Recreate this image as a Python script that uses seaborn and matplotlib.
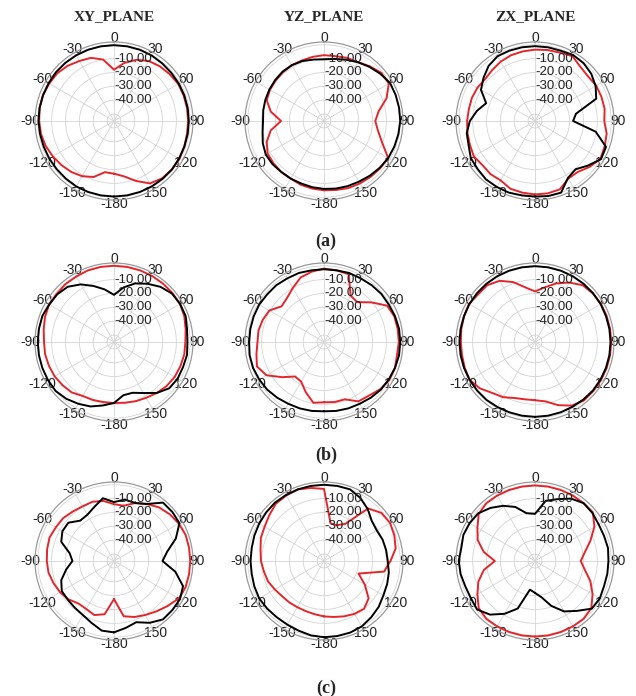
import numpy as np
import matplotlib
matplotlib.use("Agg")
import matplotlib.pyplot as plt
import seaborn as sns
import pandas as pd

sns.set_style("white")
plt.rcParams['font.family'] = ['Liberation Sans', 'DejaVu Sans']

# ---------------- data (gain in dB, angle in degrees, clockwise from top) ----------------
ANGLES = [-180, -170, -160, -150, -140, -130, -120, -110, -100, -90, -80, -70, -60, -50, -40,
          -30, -20, -10, 0, 10, 20, 30, 40, 50, 60, 70, 80, 90, 100, 110, 120, 130, 140, 150,
          160, 170, 180]

PLANES = ["XY_PLANE", "YZ_PLANE", "ZX_PLANE"]
ROW_LABELS = ["(a)", "(b)", "(c)"]
THETA_TICKS = [0, 30, 60, 90, 120, 150, 180, 210, 240, 270, 300, 330]
THETA_LABELS = ["0", "30", "60", "90", "120", "150", "-180", "-150", "-120", "-90", "-60", "-30"]
R_LABEL_LEVELS = [-10, -20, -30, -40]
R_GRID = [-50, -40, -30, -20, -10, 0]

# (a)
a_xy_black = [-0.5, -0.5, -0.5, -0.5, -0.8, -1, -1, -1, -0.8, -0.5, -0.5, -0.5, -0.5, -0.3, -0.3,
              -0.3, -0.3, -0.3, -0.3, -0.3, -0.3, -0.5, -0.8, -1, -1, -1, -1, -1, -1, -1, -0.8, -0.5,
              -0.5, -0.5, -0.5, -0.5, -0.5]
a_xy_red = [-17, -17.5, -12, -9, -7, -5.5, -4, -2.5, -1.5, -1, -0.5, -0.5, -1, -1.5, -3,
            -5, -6.5, -10, -18, -12.5, -8, -5, -3.5, -2.5, -1.5, -1.5, -1.5, -1.5, -1.5, -1, -0.5,
            -0.5, -1, -3, -9, -14.5, -17]
a_yz_black = [-6, -6.5, -7, -7, -7, -6.5, -6.5, -8, -10, -11, -10.5, -10, -9.5, -9, -8.5,
              -8.5, -9, -10, -10.5, -9.5, -8, -6, -4, -2, 0, 0, 0, 0, -0.5, -1, -1.5, -2.5,
              -3.5, -4.5, -5, -5.5, -6]
a_yz_red = [-5, -5.5, -6, -7, -7, -7.5, -8, -11, -16, -24, -16, -11, -10, -9.5, -9,
            -8.5, -8.5, -8, -7.5, -7.5, -6.5, -6, -3.5, -1, -1, -7, -15, -18, -15.5, -10.5, -1.5,
            -2, -2.5, -3, -3.5, -4.5, -5]
a_zx_black = [-0.5, -0.5, 0, 0, 0, -1, -1.5, -4, -5, -8, -12.5, -17.5, -10, -6.5, -3,
              -1, -1, -1, -1, -1, -1, 0, -0.5, -2, -4.5, -8, -25, -27.5, -10.5, -0.5, 0,
              -5, -9.5, -7.5, 0, 0, -0.5]
a_zx_red = [-2, -2.5, -3, -5.5, -5, -5.5, -4, -5, -5.5, -6, -6.5, -6.5, -7, -8, -7,
            -5.5, -4.5, -4, -3.5, -3, -2.5, -1, -4, -5, -4, -4, -4, -5, -2.5, -1.5, -0.5,
            -3.5, -7, -7, -2.5, -2, -2]
# (b)
b_xy_black = [-11, -8.5, -5.5, -3.5, -1.5, 0, 0, 0, 0, 0, 0, 0, -1, -1.5, -3,
              -7, -12, -16.5, -21, -15, -10, -6.5, -3, -0.5, 0, 0, -1.5, -2, -1.5, -2, -2,
              -3, -7, -12.5, -16, -16, -11]
b_xy_red = [-11, -11, -10.5, -10, -7.5, -6.5, -5.5, -5, -4.5, -4.5, -3.5, -2, -1, -1, -0.5,
            -0.5, 0, 0, 0, 0, 0, 0, 0, 0, 0, -1, -2.5, -3.5, -3.5, -4, -4.5,
            -5.5, -7, -8.5, -9.5, -10.5, -11]
b_yz_black = [-5, -4.5, -4, -3.5, -2.5, -1.5, -1, -0.5, -0.5, -1, -1, -1, -1, -1.5, -1.5,
              -2, -2, -2.5, -2.5, -2.5, -2, -2, -1.5, -1, -1, -0.5, 0, 0, 0, -0.5, -1,
              -1.5, -2.5, -3.5, -4, -4.5, -5]
b_yz_red = [-11.5, -10.5, -16.5, -22, -22.5, -15.5, -7, -3.5, -5.5, -7, -7, -8, -9.5, -15, -13.5,
            -10, -5.5, -3.5, -2, -2.5, -3, -16.5, -17.5, -10.5, -2.5, -1, -1, -1, -1.5, -0.5, -0.5,
            -2, -4.5, -5.5, -11, -11, -11.5]
b_zx_black = [-1, -1, -1, -0.8, -0.5, -0.5, -0.5, -0.5, -0.5, -0.5, -0.5, -0.5, -0.3, -0.3, -0.3,
              -0.3, -0.3, -0.3, -0.3, -0.3, -0.3, -0.3, -0.3, -0.3, -0.3, -0.5, -0.5, -0.5, -0.5,
              -0.5, -0.5, -0.5, -0.8, -1, -1, -1, -1]
b_zx_red = [-13, -13, -12, -9, -7, -3, -0.5, -1, -1.5, -1.5, -1, -0.5, 0, -1.5, -1.5,
            -4, -9, -15, -18.5, -15, -10, -5.5, -1.5, -0.5, 0, 0, 0, 0, 0, 0, 0,
            0, 0, -2, -6.5, -11.5, -13]
# (c)
c_xy_black = [-3.5, -4, -7.5, -10, -11, -11.5, -11.5, -14.5, -20, -25, -22.5, -14.5, -12, -12, -17,
              -16.5, -13.5, -9, -12.5, -10, -10.5, -7.5, 0, 0, -0.5, -7.5, -16, -20, -10, -2, 0,
              0, 0, -3.5, -8, -6, -3.5]
c_xy_red = [-27.5, -16, -13.5, -15, -15, -12, -10, -8.5, -7, -6.5, -6, -5.5, -6.5, -7, -8.5,
            -9.5, -9.5, -11, -14, -14.5, -10.5, -7.5, -4.5, -2.5, -1, 0, 0, 0, 0, 0, -1,
            -4.5, -7.5, -10, -12, -14.5, -27.5]
c_yz_black = [0, -0.5, -1.5, -2, -2, -1.5, -1, -1.5, -2, -2, -2, -1.5, -1, -0.5, 0,
              0, 0, 0, 0, 0, 0, -2.5, -6, -10, -11, -10, -9.5, -9, -7.5, -6.5, -5.5,
              -3.5, -2, -0.5, 0, 0, 0]
c_yz_red = [-15, -16, -16.5, -16.5, -16, -15.5, -14, -12, -11, -9.5, -8.5, -6.5, -5.5, -3.5, -1,
            -0.5, 0, -1.5, -3, -27.5, -27.5, -24, -5.5, -1, 0, -1, -2.5, -7, -11, -28.5, -21,
            -13, -10, -11, -12.5, -14, -15]
c_zx_black = [-32, -34, -18.5, -11, -4.5, -0.5, -1.5, -1.5, -0.5, 0, -1, 0, -0.5, -1.5, -5,
              -9, -13.5, -20, -21, -11, -7.5, -3, -0.5, -1, -2, -2, -1.5, -2, -2, -2, -1,
              -1.5, -8, -13, -20.5, -28.5, -32]
c_zx_red = [-0.5, -0.5, -0.5, -0.5, -0.5, -2, -7, -11.5, -17.5, -26, -17.5, -11, -7, -2, -0.5,
            -0.5, -0.5, -0.5, -0.5, -0.5, -0.5, -0.5, -0.5, -0.5, -5.5, -12.5, -18.5, -22, -18.5,
            -12.5, -7, -2, -0.5, -0.5, -0.5, -0.5, -0.5]

GRID = [
    [(a_xy_black, a_xy_red), (a_yz_black, a_yz_red), (a_zx_black, a_zx_red)],
    [(b_xy_black, b_xy_red), (b_yz_black, b_yz_red), (b_zx_black, b_zx_red)],
    [(c_xy_black, c_xy_red), (c_yz_black, c_yz_red), (c_zx_black, c_zx_red)],
]

# ---------------- layout ----------------
W, H = 636, 696
fig = plt.figure(figsize=(W / 100, H / 100), dpi=100)
fig.patch.set_facecolor("white")
CX = [114, 324, 535]
CY = [121, 342, 561]
RPX = 79
RED = "#e3262b"

theta = np.deg2rad(ANGLES)
for i, row in enumerate(GRID):
    for j, (black, red) in enumerate(row):
        cx, cy = CX[j], CY[i]
        ax = fig.add_axes([(cx - RPX) / W, 1 - (cy + RPX) / H, 2 * RPX / W, 2 * RPX / H],
                          projection="polar")
        ax.set_theta_zero_location("N")
        ax.set_theta_direction(-1)
        df = pd.DataFrame({"theta": theta, "red": red, "black": black})
        sns.lineplot(data=df, x="theta", y="red", ax=ax, color=RED, lw=1.4,
                     sort=False, estimator=None, zorder=3)
        sns.lineplot(data=df, x="theta", y="black", ax=ax, color="black", lw=1.4,
                     sort=False, estimator=None, zorder=4)
        ax.set_ylim(-55, 2)
        ax.set_yticks(R_GRID)
        ax.set_yticklabels([])
        ax.set_xticks(np.deg2rad(THETA_TICKS))
        ax.set_xticklabels(THETA_LABELS, fontsize=10, color="#222222")
        ax.set_xticks(np.deg2rad(np.arange(0, 360, 5)), minor=True)
        ax.tick_params(axis="x", which="major", pad=-4, length=0)
        ax.tick_params(axis="x", which="minor", length=2.5, width=0.6, color="#999999",
                       direction="in")
        ax.grid(True, color="#d4d4d4", lw=0.6)
        ax.spines["polar"].set_color("#9a9a9a")
        ax.spines["polar"].set_linewidth(0.9)
        ax.set_xlabel("")
        ax.set_ylabel("")
        for lvl in R_LABEL_LEVELS:
            ax.text(0.0, lvl, f"{lvl:.2f}", ha="left", va="center", fontsize=9.5,
                    color="#222222", zorder=6)
        if i == 0:
            fig.text(cx / W, 1 - 17 / H, PLANES[j], ha="center", va="center",
                     fontsize=11, fontweight="bold", family="Liberation Serif")

ROW_LABEL_Y = [241, 455, 688]
for i, lab in enumerate(ROW_LABELS):
    fig.text(326 / W, 1 - ROW_LABEL_Y[i] / H, lab, ha="center", va="center",
             fontsize=13, fontweight="bold", family="Liberation Serif")

fig.savefig("out.png", dpi=100, facecolor="white")
